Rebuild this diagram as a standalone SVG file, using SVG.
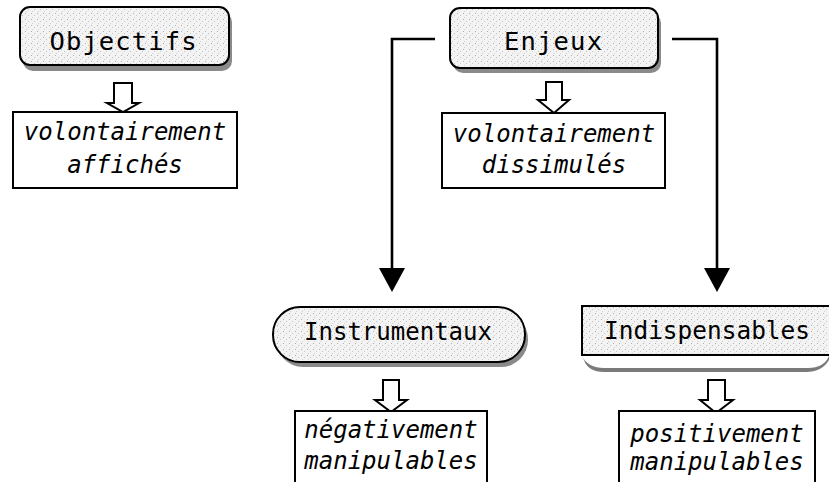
<svg xmlns="http://www.w3.org/2000/svg" width="829" height="482" viewBox="0 0 829 482">
<defs>
<pattern id="stip" width="6" height="6" patternUnits="userSpaceOnUse">
<rect width="6" height="6" fill="#f3f3f3"/>
<rect x="1" y="1" width="1" height="1" fill="#b0b0b0"/>
<rect x="4" y="3" width="1" height="1" fill="#c4c4c4"/>
<rect x="2" y="5" width="1" height="1" fill="#d0d0d0"/>
</pattern>
</defs>
<style>
.hd{fill:url(#stip);stroke:#000;stroke-width:2}
.sh{fill:#8a8a8a;stroke:none}
.bx{fill:#fff;stroke:#000;stroke-width:2}
.ha{fill:#fff;stroke:#000;stroke-width:2;stroke-linejoin:miter}
.t{font-family:"DejaVu Sans Mono","Liberation Mono",monospace;font-size:24px;fill:#000;text-anchor:middle}
.th{font-size:25.5px}
.ti{font-style:italic}
.cn{fill:none;stroke:#000;stroke-width:2.6}
</style>
<rect width="829" height="482" fill="#fff"/>

<g id="objectifs">
<rect class="sh" x="23" y="12" width="209" height="59" rx="10"/>
<rect class="hd" x="20" y="7" width="209" height="58" rx="10"/>
<text class="t th" x="123" y="50" textLength="147" lengthAdjust="spacing">Objectifs</text>
</g>

<g id="affiches">
<polygon class="ha" points="114,83 132,83 132,103 139,103 123,112 107,103 114,103"/>
<rect class="bx" x="13" y="112" width="224" height="76"/>
<text class="t ti" x="125" y="140">volontairement</text>
<text class="t ti" x="125" y="173">affichés</text>
</g>

<g id="enjeux">
<rect class="sh" x="453" y="13" width="208" height="60" rx="10"/>
<rect class="hd" x="450" y="8" width="208" height="60" rx="10"/>
<text class="t th" x="553" y="50" textLength="98" lengthAdjust="spacing">Enjeux</text>
</g>

<g id="dissimules">
<polygon class="ha" points="546,82 562,82 562,100 569,100 554,113 538,100 546,100"/>
<rect class="bx" x="442" y="113" width="223" height="75"/>
<text class="t ti" x="554" y="142">volontairement</text>
<text class="t ti" x="554" y="173">dissimulés</text>
</g>

<g id="connectors">
<path class="cn" d="M435,39 H392 V270"/>
<polygon points="379,268 405,268 392,292" fill="#000"/>
<path class="cn" d="M672,39 H717 V270"/>
<polygon points="704,268 730,268 717,292" fill="#000"/>
</g>

<g id="instrumentaux">
<rect class="sh" x="276" y="312" width="252" height="55" rx="27"/>
<rect class="hd" x="273" y="307" width="252" height="55" rx="27"/>
<text class="t th" x="398" y="340" textLength="188" lengthAdjust="spacingAndGlyphs">Instrumentaux</text>
</g>

<g id="negativement">
<polygon class="ha" points="383,380 399,380 399,400 407,400 391,412 375,400 383,400"/>
<rect class="bx" x="295" y="411" width="192" height="80"/>
<text class="t ti" x="391" y="438">négativement</text>
<text class="t ti" x="391" y="469">manipulables</text>
</g>

<g id="indispensables">
<path d="M582,356 Q588,368 604,368 H808 Q824,368 829,356 V360 Q822,372 806,372 H604 Q588,372 584,360 Z" fill="#7a7a7a"/>
<rect class="hd" x="582" y="306" width="250" height="49"/>
<text class="t th" x="707" y="339" textLength="206" lengthAdjust="spacingAndGlyphs">Indispensables</text>
</g>

<g id="positivement">
<polygon class="ha" points="708,380 725,380 725,400 733,400 716,413 700,400 708,400"/>
<rect class="bx" x="619" y="411" width="196" height="80"/>
<text class="t ti" x="717" y="442">positivement</text>
<text class="t ti" x="717" y="470">manipulables</text>
</g>
</svg>
